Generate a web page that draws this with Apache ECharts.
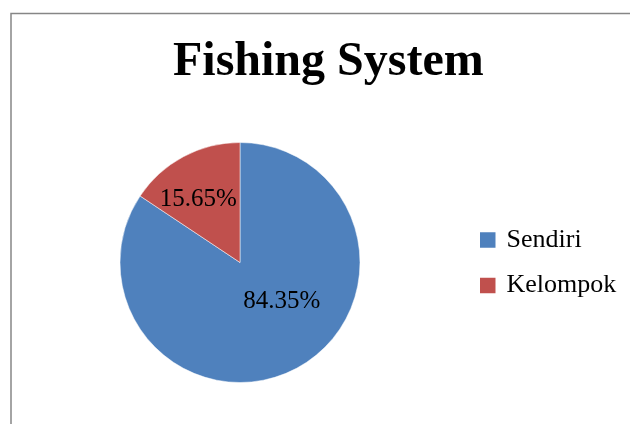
<!DOCTYPE html>
<html>
<head>
<meta charset="utf-8">
<script src="https://cdn.jsdelivr.net/npm/echarts@6/dist/echarts.min.js"></script>
<style>html,body{margin:0;padding:0;background:#fff}#c{width:630px;height:424px}</style>
</head>
<body>
<div id="c"></div>
<script>
var titleText = 'Fishing System';
var categories = ['Sendiri', 'Kelompok'];
var values = [84.35, 15.65];
var colors = ['#4F81BD', '#C0504D'];
var labelOffsets = [[12, -17], [-12, -8]];

var chart = echarts.init(document.getElementById('c'), null, {renderer: 'canvas'});
var font = '"Liberation Serif", "Times New Roman", serif';
chart.setOption({
  animation: false,
  graphic: [{
    type: 'rect', silent: true, z: -1,
    shape: {x: 11, y: 13.5, width: 700, height: 500},
    style: {fill: '#fff', stroke: '#868686', lineWidth: 1.5}
  }],
  title: {
    text: titleText, left: 173, top: 39, padding: 0,
    textStyle: {fontFamily: font, fontWeight: 'bold', fontSize: 48, color: '#000', lineHeight: 48}
  },
  legend: {
    orient: 'vertical', left: 478, top: 227, padding: 0, itemWidth: 17.5, itemHeight: 17.5, itemGap: 19.5,
    icon: 'rect', selectedMode: false,
    textStyle: {fontFamily: font, fontSize: 26, lineHeight: 26, color: '#000', padding: [0, 0, 0, 5]},
    data: categories
  },
  series: [{
    type: 'pie', center: [240, 262.5], radius: 120, startAngle: 90, clockwise: true,
    avoidLabelOverlap: false,
    itemStyle: {borderColor: '#fff', borderWidth: 0.5},
    label: {show: true, position: 'inside', fontFamily: font, fontSize: 25, color: '#000',
      formatter: function (p) { return p.value.toFixed(2) + '%'; }},
    labelLine: {show: false},
    emphasis: {disabled: true},
    data: categories.map(function (c, i) {
      return {name: c, value: values[i], itemStyle: {color: colors[i]}, label: {offset: labelOffsets[i]}};
    })
  }]
});
</script>
</body>
</html>
